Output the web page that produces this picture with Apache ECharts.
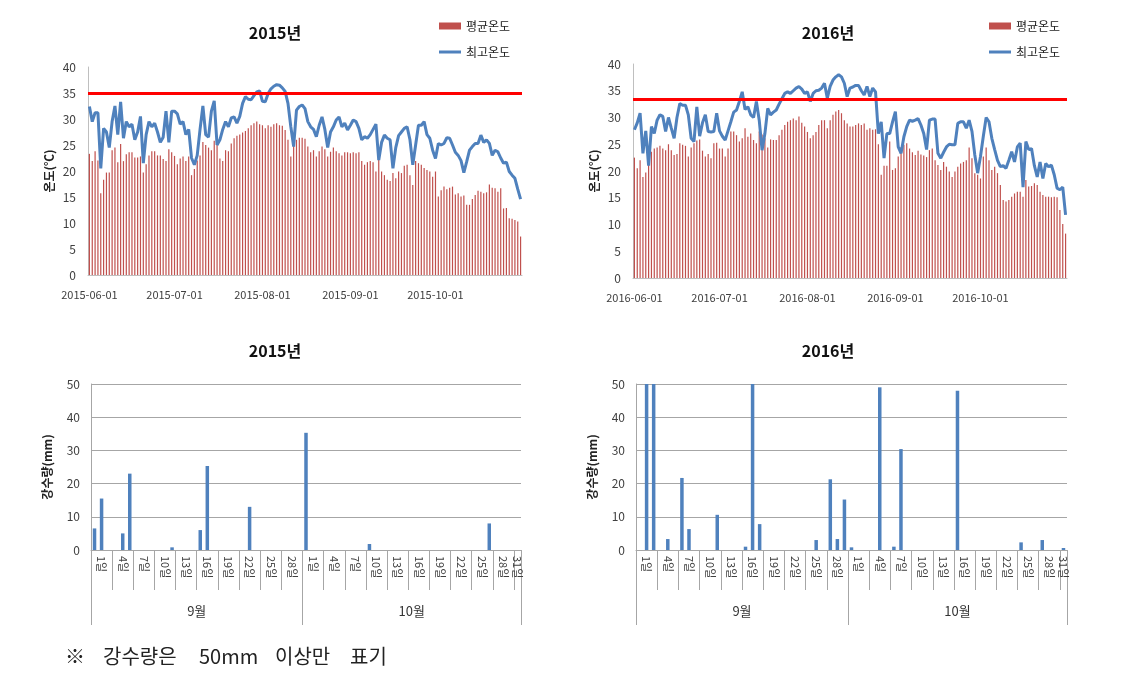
<!DOCTYPE html>
<html>
<head>
<meta charset="utf-8">
<script src="https://cdn.jsdelivr.net/npm/echarts@6/dist/echarts.min.js"></script>
<style>
html, body { margin: 0; padding: 0; background: #fff; }
#main { width: 1135px; height: 675px; }
</style>
</head>
<body>
<div id="main"></div>
<script>
// daily mean / max temperature, 06-01 .. 10-31
var avg2015 = [
	23.3, 21.9, 23.8, 22, 15.7, 18.3, 19.7, 19.7, 24, 24.5, 21.7, 25.2, 21.9, 23.2, 23.6, 23.6, 22.6, 22.6, 22.8, 19.7,
	21.3, 23, 23.8, 23.8, 23, 23, 22.3, 21.9, 24.2, 23.6, 22.9, 21.3, 22.4, 22.8, 21.9, 22.8, 19.2, 20.4, 22, 23,
	25.6, 25, 24.5, 24, 25.8, 26, 22.4, 21.9, 24, 23.8,
	25.3, 26.3, 26.8, 27, 27.4, 27.7, 28.2, 28.8, 29.2, 29.5, 29, 28.8, 28.2, 28.8, 28.5, 29, 29.2, 28.8, 28.7, 27.9,
	26, 22.8, 25.6, 26, 26.4, 26.4, 26.2, 24.7, 23.6, 24, 22.8, 23.8, 24.7, 24.2, 22.8, 23.7, 24.5, 23.8, 23.4, 23,
	23.6, 23.6, 23.4, 23.6, 23.4, 23.6, 21.9, 21.2, 21.7, 21.9, 21.7,
	19.9, 22.1, 19.9, 19.2, 18.3, 18.1, 19.6, 18.6, 19.9, 19.6, 21, 21.2, 19.2, 17.3, 21.9, 21.5, 21.2, 20.6, 20.2, 19.9,
	18.9, 19.9, 15.1, 16.3, 17, 16.5, 16.8, 17, 15.5, 15.7, 15.1, 15.3, 13.5, 13.5, 14.6, 15.4, 16.2, 16, 15.7, 15.9,
	17.4, 16.8, 16.7, 16, 16.7, 12.8, 12.9, 10.9, 10.8, 10.6, 10.3, 7.4
];
var max2015 = [
	32.4, 29.5, 31.2, 31.2, 20.5, 28.2, 27.5, 24.5, 29.5, 32.5, 27, 33.3, 26.3, 29.5, 28.5, 29, 26, 27.5, 30.5, 21.5,
	27, 29.5, 28.5, 29.2, 27.5, 25.5, 26.5, 31.5, 25.5, 31.5, 31.5, 31, 29, 29.5, 27, 28, 22.5, 21.2, 23, 28,
	32.5, 27, 26.5, 31.5, 33.5, 25, 26, 28, 29.5, 28.5,
	30.2, 30.4, 29.2, 30.5, 33, 34.3, 33.8, 33.7, 34.5, 35.2, 35.4, 33.4, 33.3, 34.9, 35.8, 36.3, 36.6, 36.5, 36, 35.3,
	33, 28.5, 24.7, 31.7, 32.4, 32.7, 32, 29.5, 28.5, 28, 26.6, 28.8, 30.4, 28, 24.5, 27.5, 28.5, 29.8, 30.4, 28.5,
	29.2, 27.9, 28.8, 29.8, 29.5, 28.2, 26, 26.6, 26.3, 27,
	28, 29, 22.1, 25.5, 26.9, 26.3, 26, 20.5, 24.5, 26.8, 27.5, 28.2, 28.5, 26, 21.2, 25, 28.8, 28.8, 29.5, 27,
	26.3, 24, 22.4, 25.3, 25, 25.3, 26.4, 26.3, 25, 23.6, 23, 22, 19.7, 21.8, 24, 24.7, 25.3, 25.3, 26.9, 25.5,
	26, 25.3, 23, 24, 23.7, 22.5, 21.5, 21.7, 19.9, 19.2, 18.6, 16.5, 14.6
];
var avg2016 = [
	22.5, 20.5, 22, 18.9, 19.7, 21.1, 23.6, 24.2, 24.4, 24.7, 24.2, 23.9, 25, 23.9, 23, 23.2, 25.2, 24.9, 24.7, 22.7,
	24.4, 25.2, 25.7, 25.9, 23.8, 22.7, 23.2, 22.4, 25.2, 25.3, 24.2, 24.2, 22.7, 24.2, 27.4, 27.4, 26.7, 25.5, 26.1, 28,
	26.4, 27, 25.8, 25.2, 27.4, 26.8, 26.1, 24.4, 25.9, 25.8,
	25.8, 26.7, 27.7, 28.6, 29.2, 29.5, 29.8, 29.5, 30.2, 29, 28.3, 27.3, 26.1, 26.7, 27.3, 28.6, 29.5, 29.5, 28, 29.5,
	30.5, 31.1, 31.4, 30.8, 29.5, 28.9, 28.3, 28.3, 28.6, 28.9, 28.6, 28.9, 27.7, 28, 27.7, 27.8, 25, 19.3, 21, 21,
	25.5, 20.2, 20.5, 22.7, 24.5, 24.9, 25.2, 24.2, 23.5, 23, 23.8,
	23.1, 22.9, 22.6, 23.9, 24.2, 22, 21.1, 20.2, 21.7, 20.8, 19.9, 18.9, 19.9, 20.8, 21.4, 21.7, 22, 24.4, 22.4, 19.6,
	19.3, 18.6, 22.7, 24.4, 22, 20.2, 20.8, 19.6, 17.4, 14.6, 14.3, 14.6, 15.2, 15.8, 16.1, 16.1, 15.2, 18.3, 17.1, 17.2,
	17.7, 17.4, 16.1, 15.5, 15.2, 15.2, 15.1, 15.2, 15.1, 12.7, 10.1, 8.3
];
var max2016 = [
	27.7, 29, 30.8, 23.3, 27.5, 21, 28.3, 27, 29.5, 30.5, 30.2, 27.4, 30, 28, 26.1, 30, 32.6, 32.3, 32.3, 30.5,
	26.1, 25.5, 32, 26.5, 29, 30.5, 27.4, 27.3, 27.4, 30.8, 27.5, 26.5, 25.8, 27.5, 29.2, 31, 31.4, 33, 34.8, 31.5,
	32, 30.5, 30, 33, 29.5, 23.9, 27, 31.7, 30.5, 31,
	31.4, 32.5, 33.5, 34.5, 34.8, 34.5, 35, 35.5, 35.8, 35.3, 34.5, 34.8, 33, 34.5, 35, 35.1, 35.5, 36.4, 33.6, 35.8,
	37, 37.6, 38, 37.6, 36.4, 33.9, 35.5, 35.7, 36, 36, 35, 34.2, 35.8, 33.9, 35.5, 34.8, 27, 29.2, 22.4, 27,
	27, 29.2, 31.1, 24.5, 23.3, 26.4, 28.3, 29.5, 29.3, 29.5,
	29.8, 28.6, 27, 24, 29.5, 29.7, 29.7, 23.3, 22.4, 23.5, 24.5, 25, 24.9, 24.9, 28.9, 29.2, 29.2, 28, 29.5, 27.4,
	23, 19.6, 22.7, 26.5, 30, 29.2, 26.1, 24, 22, 20.8, 21, 20.5, 22, 23.6, 21.7, 24.5, 25.2, 17, 25.5, 24,
	24.2, 21, 18.9, 21.7, 18.6, 21.4, 20.8, 21.1, 19.3, 16.8, 16.5, 17, 11.8
];
var limit2015 = 35;
var limit2016 = 33.4;

// daily rainfall 09-01 .. 10-31 (capped at 50)
var rain2015 = [
	6.5, 15.5, 0, 0, 5, 23, 0, 0, 0, 0, 0, 0.8, 0, 0, 0, 6, 25.3, 0, 0, 0, 0, 0, 13, 0, 0, 0, 0, 0, 0, 0,
	35.3, 0, 0, 0, 0, 0, 0, 0, 0, 1.8, 0, 0, 0, 0, 0, 0, 0, 0, 0, 0, 0, 0, 0, 0, 0, 0, 8, 0, 0, 0, 0
];
var rain2016 = [
	0, 50, 50, 0, 3.3, 0, 21.7, 6.3, 0, 0, 0, 10.6, 0, 0, 0, 1, 50, 7.8, 0, 0, 0, 0, 0, 0, 0, 3, 0, 21.3, 3.3, 15.2,
	0.8, 0, 0, 0, 49, 0, 1, 30.4, 0, 0, 0, 0, 0, 0, 0, 48, 0, 0, 0, 0, 0, 0, 0, 0, 2.3, 0, 0, 3, 0, 0, 0.6
];

var months = ['9월', '10월'];
var monthLength = [30, 31];

var font = "'Noto Sans CJK KR', sans-serif";

function dates(year) {
	var list = [];
	var d = new Date(Date.UTC(year, 5, 1));
	while (d.getUTCMonth() < 10) {
		list.push(d.toISOString().slice(0, 10));
		d.setUTCDate(d.getUTCDate() + 1);
	}
	return list;
}

var dayNames = [];
var dayGroups = { ticks: [], labels: [], text: {} };
var start = 0;
for (var m = 0; m < months.length; m++) {
	for (var i = 1; i <= monthLength[m]; i++) {
		dayNames.push(i + '일');
	}
	for (var k = 0; k < monthLength[m]; k += 3) {
		var a = start + k, b = Math.min(start + k + 3, start + monthLength[m]);
		dayGroups.ticks.push(a);
		dayGroups.labels.push((a + b) / 2);
		dayGroups.text[(a + b) / 2] = dayNames[a];
	}
	start += monthLength[m];
}
dayGroups.ticks.push(start);

var monthTicks = [0], monthPos = [], monthText = {};
start = 0;
for (var m = 0; m < months.length; m++) {
	monthPos.push(start + monthLength[m] / 2);
	monthText[start + monthLength[m] / 2] = months[m];
	start += monthLength[m];
	monthTicks.push(start);
}

function tempX(grid, year) {
	return {
		type : 'category',
		gridIndex : grid,
		data : dates(year),
		axisLine : { lineStyle : { color : '#bfbfbf' } },
		axisTick : { show : false },
		axisLabel : {
			interval : function(idx, val) { return val.slice(8) === '01'; },
			fontSize : 11,
			color : '#404040',
			margin : 14
		}
	};
}

function rainX(grid) {
	return [ {
		type : 'category',
		gridIndex : grid,
		data : dayNames,
		axisLine : { lineStyle : { color : '#a6a6a6' } },
		axisTick : { show : false },
		axisLabel : { show : false }
	}, {
		type : 'value',
		gridIndex : grid,
		position : 'bottom',
		min : 0,
		max : start,
		axisLine : { show : false },
		splitLine : { show : false },
		axisTick : {
			show : true,
			customValues : dayGroups.ticks,
			length : 40,
			lineStyle : { color : '#a6a6a6' }
		},
		axisLabel : {
			customValues : dayGroups.labels,
			formatter : function(v) { return dayGroups.text[v] || ''; },
			rotate : -90,
			fontSize : 11,
			color : '#404040',
			margin : 6
		}
	}, {
		type : 'value',
		gridIndex : grid,
		position : 'bottom',
		min : 0,
		max : start,
		axisLine : { show : false },
		splitLine : { show : false },
		axisTick : {
			show : true,
			customValues : monthTicks,
			length : 75,
			lineStyle : { color : '#a6a6a6' }
		},
		axisLabel : {
			customValues : monthPos,
			formatter : function(v) { return monthText[v] || ''; },
			fontSize : 13,
			color : '#333',
			margin : 55
		}
	} ];
}

function tempY(grid) {
	return {
		type : 'value',
		gridIndex : grid,
		min : 0,
		max : 40,
		interval : 5,
		name : '온도(℃)',
		nameLocation : 'middle',
		nameGap : 33,
		nameTextStyle : { fontSize : 12, fontWeight : 'bold', color : '#222' },
		axisLine : { show : true, lineStyle : { color : '#bfbfbf' } },
		axisTick : { show : false },
		splitLine : { show : false },
		axisLabel : { fontSize : 12, color : '#404040', margin : 12 }
	};
}

function rainY(grid) {
	return {
		type : 'value',
		gridIndex : grid,
		min : 0,
		max : 50,
		interval : 10,
		name : '강수량(mm)',
		nameLocation : 'middle',
		nameGap : 38,
		nameTextStyle : { fontSize : 12, fontWeight : 'bold', color : '#222' },
		axisLine : { show : true, lineStyle : { color : '#a6a6a6' } },
		axisTick : { show : false },
		splitLine : { lineStyle : { color : '#a6a6a6' } },
		axisLabel : { fontSize : 12, color : '#404040', margin : 11 }
	};
}

function redLine(v) {
	return {
		silent : true,
		symbol : 'none',
		label : { show : false },
		lineStyle : { color : '#ff0000', width : 3, type : 'solid' },
		data : [ { yAxis : v } ]
	};
}

function title(text, x, y) {
	return {
		type : 'text',
		x : x,
		y : y,
		style : {
			text : text,
			font : 'bold 16px ' + font,
			fill : '#111',
			textAlign : 'center',
			textVerticalAlign : 'middle'
		}
	};
}

function legend(left, top, name, h) {
	return {
		left : left,
		top : top,
		itemWidth : 22,
		itemHeight : h,
		textStyle : { fontSize : 12, color : '#222' },
		data : [ { name : name, icon : 'rect' } ]
	};
}

function note(text, x) {
	return {
		type : 'text',
		x : x,
		y : 656,
		style : {
			text : text,
			font : '20px ' + font,
			fill : '#222',
			textVerticalAlign : 'middle'
		}
	};
}

var option = {
	backgroundColor : '#fff',
	animation : false,
	textStyle : { fontFamily : font },
	grid : [
		{ left : 88, top : 67, width : 434, height : 208 },
		{ left : 633, top : 64, width : 434, height : 214 },
		{ left : 91, top : 384, width : 430, height : 166 },
		{ left : 636, top : 384, width : 431, height : 166 }
	],
	legend : [
		legend(434, 15, '평균온도', 7),
		legend(434, 41, '최고온도', 3),
		legend(984, 15, '평균온도', 7),
		legend(984, 41, '최고온도', 3)
	],
	xAxis : [ tempX(0, 2015), tempX(1, 2016) ].concat(rainX(2), rainX(3)),
	yAxis : [ tempY(0), tempY(1), rainY(2), rainY(3) ],
	graphic : [
		title('2015년', 275, 33),
		title('2016년', 828, 33),
		title('2015년', 275, 351),
		title('2016년', 828, 351),
		note('※', 65),
		note('강수량은', 103),
		note('50mm', 199),
		note('이상만', 275),
		note('표기', 350)
	],
	series : [ {
		name : '평균온도',
		type : 'bar',
		xAxisIndex : 0,
		yAxisIndex : 0,
		barWidth : 1.2,
		itemStyle : { color : '#c0504d' },
		data : avg2015
	}, {
		name : '최고온도',
		type : 'line',
		xAxisIndex : 0,
		yAxisIndex : 0,
		symbol : 'none',
		lineStyle : { color : '#4f81bd', width : 3 },
		itemStyle : { color : '#4f81bd' },
		markLine : redLine(limit2015),
		data : max2015
	}, {
		name : '평균온도',
		type : 'bar',
		xAxisIndex : 1,
		yAxisIndex : 1,
		barWidth : 1.2,
		itemStyle : { color : '#c0504d' },
		data : avg2016
	}, {
		name : '최고온도',
		type : 'line',
		xAxisIndex : 1,
		yAxisIndex : 1,
		symbol : 'none',
		lineStyle : { color : '#4f81bd', width : 3 },
		itemStyle : { color : '#4f81bd' },
		markLine : redLine(limit2016),
		data : max2016
	}, {
		name : '강수량2015',
		type : 'bar',
		xAxisIndex : 2,
		yAxisIndex : 2,
		barWidth : 3.5,
		itemStyle : { color : '#4f81bd' },
		data : rain2015
	}, {
		name : '강수량2016',
		type : 'bar',
		xAxisIndex : 5,
		yAxisIndex : 3,
		barWidth : 3.5,
		itemStyle : { color : '#4f81bd' },
		data : rain2016
	} ]
};

var myChart = echarts.init(document.getElementById('main'));
myChart.setOption(option);
</script>
</body>
</html>
